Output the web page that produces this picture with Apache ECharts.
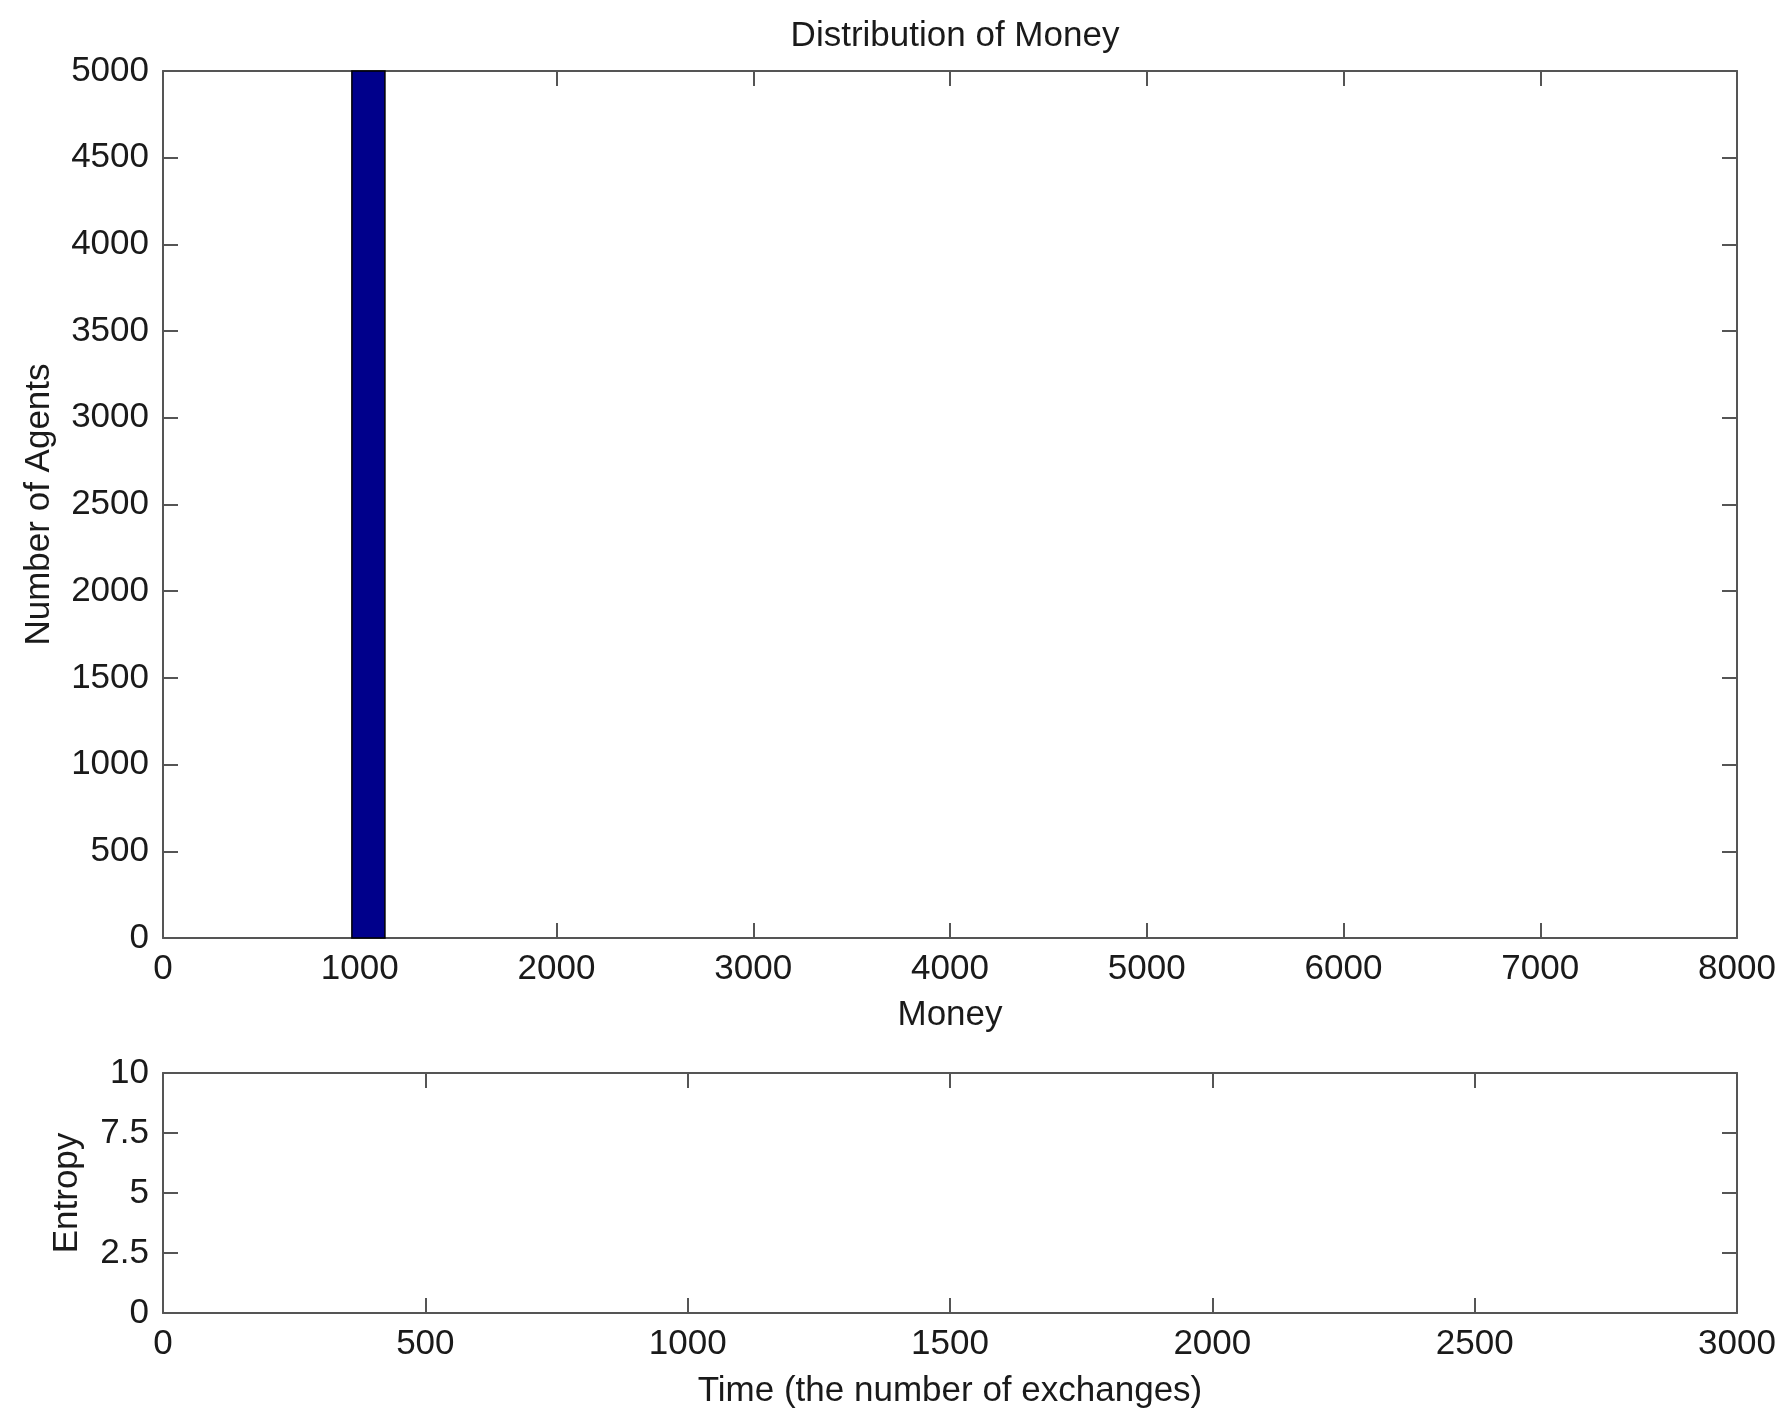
<!DOCTYPE html>
<html>
<head>
<meta charset="utf-8">
<script src="https://cdn.jsdelivr.net/npm/echarts@6/dist/echarts.min.js"></script>
<style>html,body{margin:0;padding:0;background:#fff}#c{width:1782px;height:1410px}</style>
</head>
<body>
<div id="c"></div>
<script>
// Histogram bins: [binStart, binEnd, count]
const moneyBins = [[960, 1128, 5000]];
const entropyTimes = [];
const entropyValues = [];
const moneyTicks = {min: 0, max: 8000, interval: 1000};
const agentTicks = {min: 0, max: 5000, interval: 500};
const timeTicks = {min: 0, max: 3000, interval: 500};
const entropyTicks = {min: 0, max: 10, interval: 2.5};

const FONT = 'Liberation Sans, Arial, sans-serif';
const TXT = '#1a1a1a';
const LINE = '#555';
const FS = 35;

function axisBase(t, showLabels) {
  return {
    type: 'value', min: t.min, max: t.max, interval: t.interval,
    axisLine: {show: true, onZero: false, lineStyle: {color: LINE, width: 2}},
    axisTick: {show: true, inside: true, length: 15, lineStyle: {color: LINE, width: 2}},
    splitLine: {show: false},
    axisLabel: {show: showLabels, color: TXT, fontFamily: FONT, fontSize: FS, margin: 14,
      formatter: function (v) { return String(v); }},
    nameTextStyle: {color: TXT, fontFamily: FONT, fontSize: FS}
  };
}

const chart = echarts.init(document.getElementById('c'));
chart.setOption({
  backgroundColor: '#fff',
  animation: false,
  title: {
    text: 'Distribution of Money', left: 950, top: 14, textAlign: 'center',
    textStyle: {color: TXT, fontFamily: FONT, fontSize: FS, fontWeight: 'normal'}
  },
  grid: [
    {left: 163, right: 45, top: 71, height: 867, show: false},
    {left: 163, right: 45, top: 1073, height: 241, show: false}
  ],
  xAxis: [
    Object.assign(axisBase(moneyTicks, true), {gridIndex: 0, position: 'bottom', name: 'Money', nameLocation: 'middle', nameGap: 60}),
    Object.assign(axisBase(moneyTicks, false), {gridIndex: 0, position: 'top'}),
    Object.assign(axisBase(timeTicks, true), {gridIndex: 1, position: 'bottom', name: 'Time (the number of exchanges)', nameLocation: 'middle', nameGap: 61}),
    Object.assign(axisBase(timeTicks, false), {gridIndex: 1, position: 'top'})
  ],
  yAxis: [
    Object.assign(axisBase(agentTicks, true), {gridIndex: 0, position: 'left', name: 'Number of Agents', nameLocation: 'middle', nameGap: 106}),
    Object.assign(axisBase(agentTicks, false), {gridIndex: 0, position: 'right'}),
    Object.assign(axisBase(entropyTicks, true), {gridIndex: 1, position: 'left', name: 'Entropy', nameLocation: 'middle', nameGap: 78}),
    Object.assign(axisBase(entropyTicks, false), {gridIndex: 1, position: 'right'})
  ],
  series: [
    {
      type: 'custom', xAxisIndex: 0, yAxisIndex: 0,
      data: moneyBins,
      renderItem: function (params, api) {
        const p0 = api.coord([api.value(0), api.value(2)]);
        const p1 = api.coord([api.value(1), 0]);
        return {
          type: 'rect',
          shape: {x: p0[0], y: p0[1], width: p1[0] - p0[0], height: p1[1] - p0[1]},
          style: {fill: '#00008b', stroke: '#000', lineWidth: 1.5}
        };
      },
      encode: {x: [0, 1], y: 2}
    },
    {
      type: 'line', xAxisIndex: 2, yAxisIndex: 2, showSymbol: false,
      data: entropyTimes.map((t, i) => [t, entropyValues[i]])
    }
  ]
});
</script>
</body>
</html>
